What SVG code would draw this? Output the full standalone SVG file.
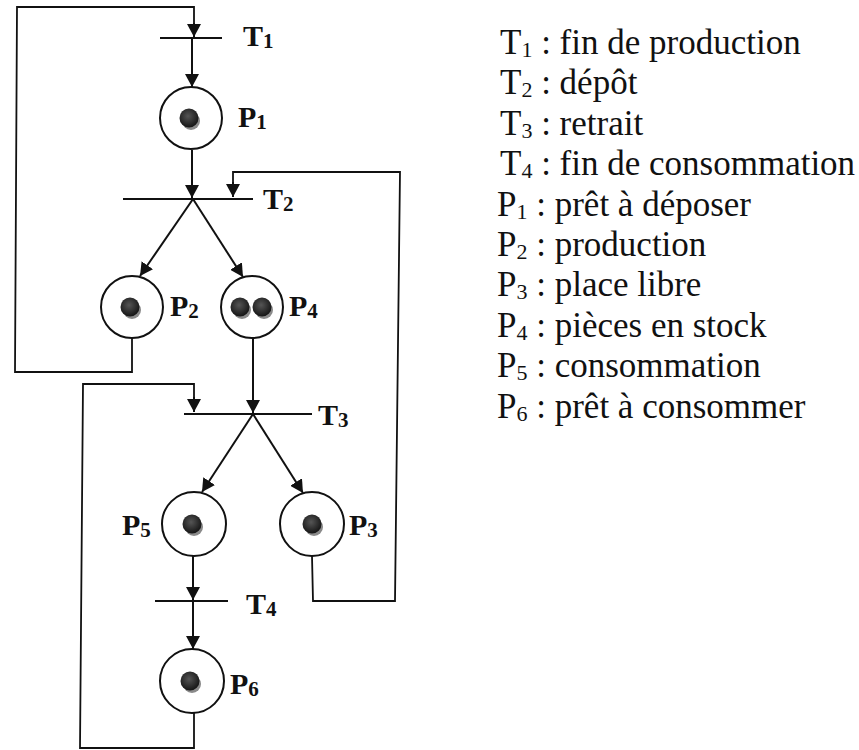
<svg xmlns="http://www.w3.org/2000/svg" width="859" height="750" viewBox="0 0 859 750">
<defs>
<style>
.bar{stroke:#111;stroke-width:2;fill:none}
.arc{stroke:#111;stroke-width:2;fill:none;marker-end:url(#ah)}
.loop{stroke:#111;stroke-width:1.8;fill:none}
.place{stroke:#111;stroke-width:2;fill:#fff}
.tok{fill:url(#tg)}
.sh{fill:#8a8a8a}
.lbl{font-family:"Liberation Serif","Times New Roman","DejaVu Serif",serif;font-weight:bold;font-size:30px;fill:#111}
.sub{font-size:21px}
.leg{font-family:"Liberation Serif","Times New Roman","DejaVu Serif",serif;font-size:35px;fill:#111}
.lsub{font-size:22px}
</style>
<radialGradient id="tg" cx="0.45" cy="0.4" r="0.6">
<stop offset="0" stop-color="#555"/>
<stop offset="1" stop-color="#151515"/>
</radialGradient>
<marker id="ah" markerUnits="userSpaceOnUse" markerWidth="14" markerHeight="14" refX="13" refY="7" orient="auto">
<path d="M0,0 L13,7 L0,14 Z" fill="#111"/>
</marker>
</defs>
<rect width="859" height="750" fill="#fff"/>
<g id="connectors">
<polyline class="loop" points="132,338 132,372 15,372 17,7 194,7 194,24"/>
<line class="arc" x1="194" y1="23" x2="194" y2="37"/>
<line class="arc" x1="192" y1="38" x2="192" y2="87"/>
<line class="arc" x1="192" y1="150" x2="192" y2="198"/>
<polyline class="loop" points="312,556 313,601 395,601 400,172 233,172 233,183"/>
<line class="arc" x1="233" y1="182" x2="233" y2="197"/>
<line class="arc" x1="193" y1="199" x2="140" y2="276"/>
<line class="arc" x1="193" y1="199" x2="243" y2="277"/>
<line class="arc" x1="253" y1="338" x2="253" y2="413"/>
<polyline class="loop" points="194,712 194,748 80,748 83,384 194,384 194,398"/>
<line class="arc" x1="194" y1="397" x2="194" y2="412"/>
<line class="arc" x1="253" y1="414" x2="202" y2="492"/>
<line class="arc" x1="253" y1="414" x2="303" y2="493"/>
<line class="arc" x1="193" y1="556" x2="193" y2="600"/>
<line class="arc" x1="193" y1="601" x2="193" y2="649"/>
</g>
<g id="T1"><line class="bar" x1="160" y1="38" x2="222" y2="38"/><text class="lbl" x="243" y="46">T<tspan class="sub" dy="2">1</tspan></text></g>
<g id="P1"><circle class="place" cx="191" cy="118" r="31"/><circle class="sh" cx="191" cy="121" r="9"/><circle class="tok" cx="189" cy="118" r="9.5"/><text class="lbl" x="238" y="127">P<tspan class="sub" dy="2">1</tspan></text></g>
<g id="T2"><line class="bar" x1="123" y1="199" x2="253" y2="199"/><text class="lbl" x="263" y="209">T<tspan class="sub" dy="2">2</tspan></text></g>
<g id="P2"><circle class="place" cx="132" cy="307" r="31"/><circle class="sh" cx="132" cy="310" r="9"/><circle class="tok" cx="130" cy="307" r="9.5"/><text class="lbl" x="170" y="316">P<tspan class="sub" dy="2">2</tspan></text></g>
<g id="P4"><circle class="place" cx="252" cy="307" r="31"/><circle class="sh" cx="242" cy="310" r="9"/><circle class="tok" cx="240" cy="307" r="9.5"/><circle class="sh" cx="264" cy="310" r="9"/><circle class="tok" cx="262" cy="307" r="9.5"/><text class="lbl" x="289" y="316">P<tspan class="sub" dy="2">4</tspan></text></g>
<g id="T3"><line class="bar" x1="184" y1="414" x2="312" y2="414"/><text class="lbl" x="318" y="425">T<tspan class="sub" dy="2">3</tspan></text></g>
<g id="P5"><circle class="place" cx="194" cy="524" r="32"/><circle class="sh" cx="194" cy="527" r="9"/><circle class="tok" cx="192" cy="524" r="9.5"/><text class="lbl" x="122" y="535">P<tspan class="sub" dy="2">5</tspan></text></g>
<g id="P3"><circle class="place" cx="312" cy="524" r="32"/><circle class="sh" cx="314" cy="527" r="9"/><circle class="tok" cx="312" cy="524" r="9.5"/><text class="lbl" x="349" y="535">P<tspan class="sub" dy="2">3</tspan></text></g>
<g id="T4"><line class="bar" x1="155" y1="601" x2="228" y2="601"/><text class="lbl" x="246" y="614">T<tspan class="sub" dy="2">4</tspan></text></g>
<g id="P6"><circle class="place" cx="192" cy="681" r="32"/><circle class="sh" cx="192" cy="684" r="9"/><circle class="tok" cx="190" cy="681" r="9.5"/><text class="lbl" x="230" y="694">P<tspan class="sub" dy="2">6</tspan></text></g>
<g id="legend">
<text class="leg" x="500" y="54">T<tspan class="lsub" dy="3">1</tspan><tspan dy="-3"> : fin de production</tspan></text>
<text class="leg" x="500" y="94">T<tspan class="lsub" dy="3">2</tspan><tspan dy="-3"> : dépôt</tspan></text>
<text class="leg" x="500" y="135">T<tspan class="lsub" dy="3">3</tspan><tspan dy="-3"> : retrait</tspan></text>
<text class="leg" x="500" y="175">T<tspan class="lsub" dy="3">4</tspan><tspan dy="-3"> : fin de consommation</tspan></text>
<text class="leg" x="497" y="216">P<tspan class="lsub" dy="3">1</tspan><tspan dy="-3"> : prêt à déposer</tspan></text>
<text class="leg" x="497" y="256">P<tspan class="lsub" dy="3">2</tspan><tspan dy="-3"> : production</tspan></text>
<text class="leg" x="497" y="296">P<tspan class="lsub" dy="3">3</tspan><tspan dy="-3"> : place libre</tspan></text>
<text class="leg" x="497" y="337">P<tspan class="lsub" dy="3">4</tspan><tspan dy="-3"> : pièces en stock</tspan></text>
<text class="leg" x="497" y="377">P<tspan class="lsub" dy="3">5</tspan><tspan dy="-3"> : consommation</tspan></text>
<text class="leg" x="497" y="418">P<tspan class="lsub" dy="3">6</tspan><tspan dy="-3"> : prêt à consommer</tspan></text>
</g>
</svg>
